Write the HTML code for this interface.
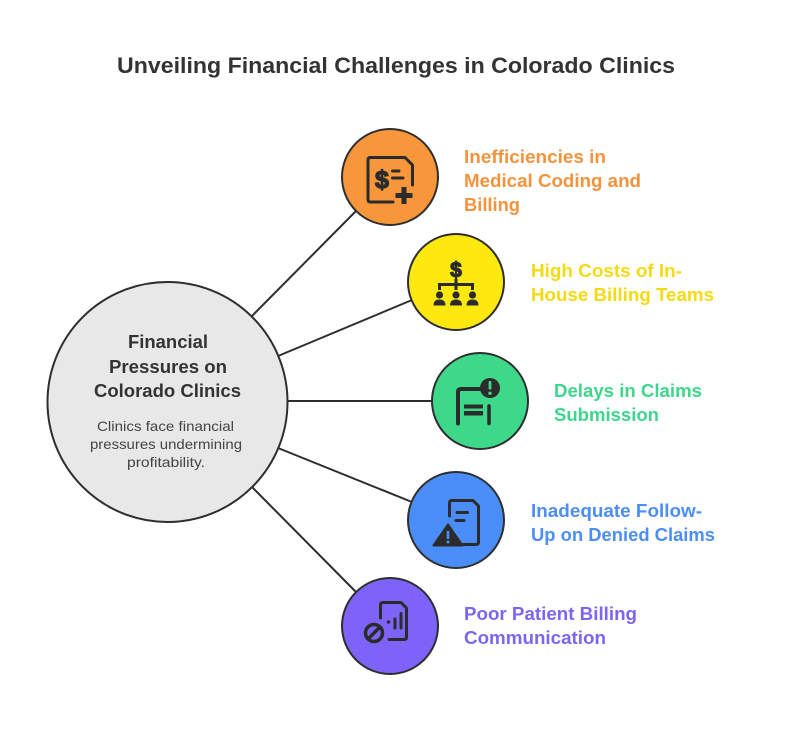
<!DOCTYPE html>
<html>
<head>
<meta charset="utf-8">
<style>
  html,body{margin:0;padding:0;background:#ffffff;}
  body{width:792px;height:744px;overflow:hidden;}
  svg{display:block;}
  text{font-family:"Liberation Sans", Arial, sans-serif;}
</style>
</head>
<body>
<svg width="792" height="744" viewBox="0 0 792 744" xmlns="http://www.w3.org/2000/svg">
  <rect width="792" height="744" fill="#ffffff"/>

  <!-- Title -->
  <text x="117" y="73" font-size="22" font-weight="bold" fill="#333333" textLength="558" lengthAdjust="spacingAndGlyphs">Unveiling Financial Challenges in Colorado Clinics</text>

  <!-- connectors -->
  <g stroke="#2e2e2e" stroke-width="2" fill="none">
    <line x1="252" y1="316" x2="356" y2="211"/>
    <line x1="278" y1="356" x2="412" y2="300"/>
    <line x1="287" y1="401" x2="432" y2="401"/>
    <line x1="278" y1="448" x2="412" y2="502"/>
    <line x1="252" y1="487" x2="356" y2="592"/>
  </g>

  <!-- central circle -->
  <circle cx="167.5" cy="402" r="120" fill="#e8e8e8" stroke="#2e2e2e" stroke-width="2"/>
  <g font-weight="bold" font-size="18" fill="#333333" text-anchor="middle">
    <text x="168" y="348" textLength="80" lengthAdjust="spacingAndGlyphs">Financial</text>
    <text x="168" y="373" textLength="118" lengthAdjust="spacingAndGlyphs">Pressures on</text>
    <text x="167.5" y="397" textLength="147" lengthAdjust="spacingAndGlyphs">Colorado Clinics</text>
  </g>
  <g font-size="14" fill="#444444" text-anchor="middle">
    <text x="165.5" y="431" textLength="137" lengthAdjust="spacingAndGlyphs">Clinics face financial</text>
    <text x="166" y="449" textLength="152" lengthAdjust="spacingAndGlyphs">pressures undermining</text>
    <text x="166" y="467" textLength="78" lengthAdjust="spacingAndGlyphs">profitability.</text>
  </g>

  <!-- Orange node -->
  <circle cx="390" cy="177" r="48" fill="#f7963a" stroke="#2e2e2e" stroke-width="2"/>
  <g stroke="#2b2b2b" stroke-width="3" fill="none" stroke-linecap="round" stroke-linejoin="round">
    <path d="M393 202 H370.5 Q368 202 368 199.5 V160 Q368 157.5 370.5 157.5 H405 L412.5 165 V185"/>
    <line x1="392.5" y1="171" x2="399" y2="171"/>
    <line x1="392.5" y1="178" x2="403" y2="178"/>
  </g>
  <text x="382" y="188" font-size="25" font-weight="bold" fill="#2b2b2b" stroke="#2b2b2b" stroke-width="1.3" text-anchor="middle">$</text>
  <rect x="401.5" y="187" width="5" height="17" fill="#2b2b2b"/>
  <rect x="395.5" y="193" width="17" height="5" fill="#2b2b2b"/>

  <!-- Yellow node -->
  <circle cx="456" cy="282" r="48" fill="#fde910" stroke="#2e2e2e" stroke-width="2"/>
  <text x="456" y="277" font-size="21" font-weight="bold" fill="#2b2b2b" stroke="#2b2b2b" stroke-width="1.2" text-anchor="middle">$</text>
  <g stroke="#2b2b2b" stroke-width="3" fill="none" stroke-linecap="butt">
    <path d="M439.5 290 V284.5 H472.5 V290"/>
    <line x1="456" y1="279" x2="456" y2="290"/>
  </g>
  <g fill="#2b2b2b">
    <circle cx="439.5" cy="295" r="3.6"/>
    <circle cx="456" cy="295" r="3.6"/>
    <circle cx="472.5" cy="295" r="3.6"/>
    <path d="M433.5 305.5 Q433.5 299.5 439.5 299.5 Q445.5 299.5 445.5 305.5 Z"/>
    <path d="M450 305.5 Q450 299.5 456 299.5 Q462 299.5 462 305.5 Z"/>
    <path d="M466.5 305.5 Q466.5 299.5 472.5 299.5 Q478.5 299.5 478.5 305.5 Z"/>
  </g>

  <!-- Green node -->
  <circle cx="480" cy="401" r="48" fill="#3ed88b" stroke="#2e2e2e" stroke-width="2"/>
  <g stroke="#2b2b2b" fill="none" stroke-linecap="round" stroke-linejoin="round">
    <path d="M458 423.5 V392 Q458 389 461 389 H480" stroke-width="4"/>
    <line x1="489" y1="406" x2="489" y2="423.5" stroke-width="3.5"/>
  </g>
  <rect x="464" y="404.5" width="19" height="4" fill="#2b2b2b"/>
  <rect x="464" y="411" width="19" height="4.5" fill="#2b2b2b"/>
  <circle cx="490" cy="388" r="10" fill="#2b2b2b"/>
  <rect x="488.6" y="381" width="2.8" height="8.5" rx="1" fill="#3ed88b"/>
  <circle cx="490" cy="393.3" r="1.7" fill="#3ed88b"/>

  <!-- Blue node -->
  <circle cx="456" cy="520" r="48" fill="#4b8df6" stroke="#2e2e2e" stroke-width="2"/>
  <g stroke="#2b2b2b" stroke-width="3" fill="none" stroke-linecap="round" stroke-linejoin="round">
    <path d="M449.5 516 V503 Q449.5 500.5 452 500.5 H473 L478.5 506 V542 Q478.5 544.5 476 544.5 H459"/>
    <line x1="457" y1="512.5" x2="467.5" y2="512.5"/>
    <line x1="456" y1="520.5" x2="464" y2="520.5"/>
  </g>
  <path d="M448 524.5 L462.5 545.5 H433.5 Z" fill="#2b2b2b" stroke="#2b2b2b" stroke-width="2" stroke-linejoin="round"/>
  <rect x="446.7" y="531" width="2.6" height="8" fill="#4b8df6"/>
  <circle cx="448" cy="542" r="1.5" fill="#4b8df6"/>

  <!-- Purple node -->
  <circle cx="390" cy="626" r="48" fill="#7d63f7" stroke="#2e2e2e" stroke-width="2"/>
  <g stroke="#2b2b2b" stroke-width="3" fill="none" stroke-linecap="round" stroke-linejoin="round">
    <path d="M380.5 618 V605 Q380.5 602.5 383 602.5 H401 L406.5 608 V637 Q406.5 639.5 404 639.5 H389"/>
    <line x1="395" y1="619" x2="395" y2="628"/>
    <line x1="401" y1="613.5" x2="401" y2="628"/>
  </g>
  <circle cx="388.5" cy="622" r="1.8" fill="#2b2b2b"/>
  <circle cx="374" cy="633" r="8.5" fill="#7d63f7" stroke="#2b2b2b" stroke-width="3.5"/>
  <line x1="368.5" y1="638.5" x2="379.5" y2="627.5" stroke="#2b2b2b" stroke-width="3.5"/>

  <!-- Labels -->
  <g font-size="18" font-weight="bold">
    <g fill="#f5923c">
      <text x="464" y="163" textLength="142" lengthAdjust="spacingAndGlyphs">Inefficiencies in</text>
      <text x="464" y="187" textLength="177" lengthAdjust="spacingAndGlyphs">Medical Coding and</text>
      <text x="464" y="211" textLength="56" lengthAdjust="spacingAndGlyphs">Billing</text>
    </g>
    <g fill="#f5da12">
      <text x="531" y="277" textLength="151" lengthAdjust="spacingAndGlyphs">High Costs of In-</text>
      <text x="531" y="301" textLength="183" lengthAdjust="spacingAndGlyphs">House Billing Teams</text>
    </g>
    <g fill="#3dd68b">
      <text x="554" y="397" textLength="148" lengthAdjust="spacingAndGlyphs">Delays in Claims</text>
      <text x="554" y="421" textLength="105" lengthAdjust="spacingAndGlyphs">Submission</text>
    </g>
    <g fill="#4c8ef5">
      <text x="531" y="517" textLength="171" lengthAdjust="spacingAndGlyphs">Inadequate Follow-</text>
      <text x="531" y="541" textLength="184" lengthAdjust="spacingAndGlyphs">Up on Denied Claims</text>
    </g>
    <g fill="#7b66f2">
      <text x="464" y="620" textLength="173" lengthAdjust="spacingAndGlyphs">Poor Patient Billing</text>
      <text x="464" y="644" textLength="142" lengthAdjust="spacingAndGlyphs">Communication</text>
    </g>
  </g>
</svg>
</body>
</html>
